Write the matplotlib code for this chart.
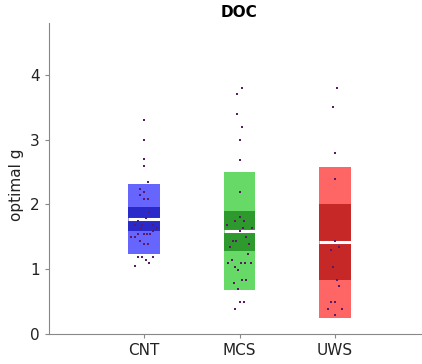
import numpy as np
import matplotlib
matplotlib.use("Agg")
import matplotlib.pyplot as plt
from matplotlib.patches import Rectangle

groups = ["CNT", "MCS", "UWS"]

cnt_values = [3.30, 3.00, 2.70, 2.60, 2.35, 2.24, 2.19, 2.14, 2.09, 2.09,
              1.89, 1.79, 1.745, 1.69, 1.69, 1.69, 1.64, 1.64, 1.595,
              1.545, 1.545, 1.545, 1.545, 1.49, 1.49, 1.44, 1.395, 1.395,
              1.19, 1.19, 1.19, 1.14, 1.09, 1.045]
mcs_values = [3.80, 3.70, 3.40, 3.20, 3.00, 2.69, 2.19, 1.80, 1.745, 1.745,
              1.69, 1.64, 1.64, 1.59, 1.49, 1.44, 1.44, 1.39, 1.34, 1.24,
              1.14, 1.09, 1.09, 1.09, 1.09, 1.04, 0.99, 0.83, 0.83, 0.79,
              0.69, 0.49, 0.49, 0.39]
uws_values = [3.80, 3.50, 2.80, 2.40, 1.44, 1.34, 1.29, 1.04, 0.83, 0.74,
              0.49, 0.49, 0.39, 0.39, 0.29]

# horizontal jitter of the dots (x units)
cnt_jitter = [0, 0, 0, 0, 0.044, -0.044, 0, -0.044, 0, 0.044,
              0.054, 0.016, -0.061, -0.096, -0.023, 0.089, -0.033, 0.132, 0.096,
              -0.068, 0, 0.033, 0.065, -0.135, -0.1, -0.044, 0, 0.044,
              -0.061, -0.019, 0.089, 0.016, 0.054, -0.096]
mcs_jitter = [0.023, -0.023, -0.023, 0.023, 0, 0, 0, 0, -0.044, 0.044,
              -0.132, 0.033, 0.132, 0, 0.068, -0.065, -0.033, 0.1, -0.1, 0.086,
              -0.082, -0.121, 0.019, 0.054, 0.121, -0.051, -0.016, 0.023, 0.065, -0.061,
              -0.019, 0, 0.044, -0.044]
uws_jitter = [0.025, -0.021, 0, 0, 0, 0.046, -0.042, -0.021, 0.025, 0.046,
              -0.042, 0, -0.074, 0.081, 0]

values = [cnt_values, mcs_values, uws_values]
jitters = [cnt_jitter, mcs_jitter, uws_jitter]
light_colors = ["#6666fe", "#66d966", "#fe6666"]
dark_colors = ["#2a2acb", "#2e9a2e", "#c62828"]
dot_color = "#5c1a66"
bar_w = 0.333

W, H = 422, 364
fig = plt.figure(figsize=(W / 100, H / 100), dpi=100)
# axes runs a bit past the right edge, as in the reference crop
ax = fig.add_axes([49 / W, 1 - 334 / H, 381 / W, 311 / H])

for i, (vals, jit) in enumerate(zip(values, jitters)):
    pos = i + 1
    v = np.array(vals)
    mean = v.mean()
    sd = v.std(ddof=1)
    ci = 1.96 * sd / np.sqrt(len(v))
    # light bar = mean +/- SD, dark bar = 95% CI of the mean
    ax.add_patch(Rectangle((pos - bar_w / 2, mean - sd), bar_w, 2 * sd,
                           facecolor=light_colors[i], edgecolor="none", zorder=1))
    ax.add_patch(Rectangle((pos - bar_w / 2, mean - ci), bar_w, 2 * ci,
                           facecolor=dark_colors[i], edgecolor="none", zorder=2))
    ax.plot([pos - bar_w / 2, pos + bar_w / 2], [mean, mean], color="white",
            lw=2.2, solid_capstyle="butt", zorder=3)
    ax.plot(pos + np.array(jit), v, "s", color=dot_color, ms=1.6, mew=0, zorder=4)

ax.set_xlim(0, 4)
ax.set_ylim(0, 4.8)
ax.set_xticks([1, 2, 3])
ax.set_xticklabels(groups)
ax.set_yticks([0, 1, 2, 3, 4])
ax.set_ylabel("optimal g", fontsize=11, color="#222222")
ax.yaxis.set_label_coords(-0.065, 0.479)
ax.set_title("DOC", fontsize=11, fontweight="bold", pad=4)

for s in ["top", "right"]:
    ax.spines[s].set_visible(False)
for s in ["left", "bottom"]:
    ax.spines[s].set_color("#888888")
ax.tick_params(colors="#888888", labelcolor="#222222", labelsize=11, length=3)

fig.savefig("out.png", dpi=100)
